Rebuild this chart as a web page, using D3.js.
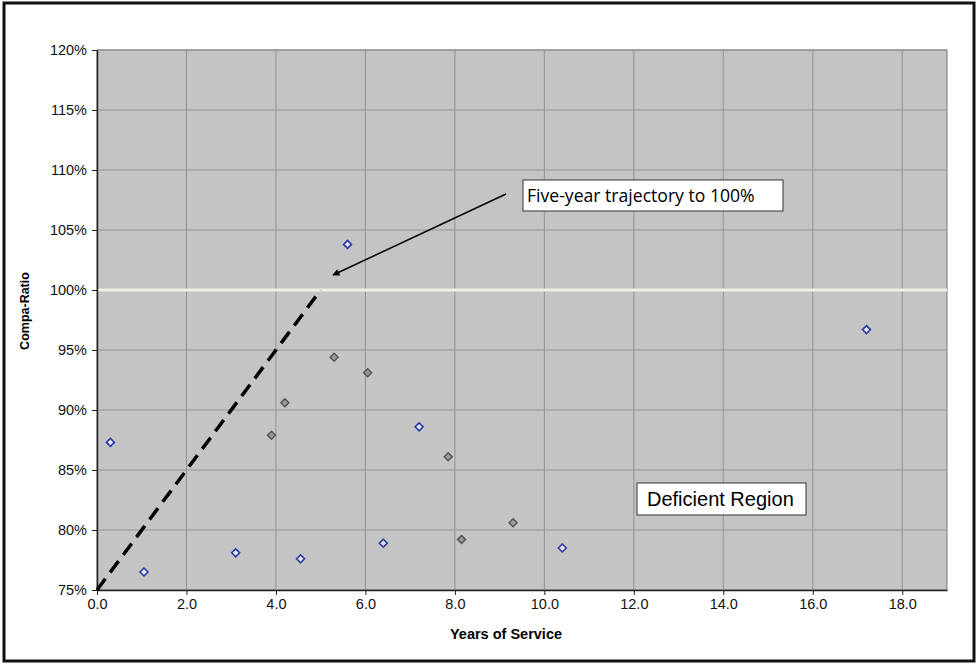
<!DOCTYPE html>
<html><head><meta charset="utf-8">
<script src="https://cdn.jsdelivr.net/npm/d3@7"></script>
<style>body{margin:0;background:#fff}svg{display:block}</style>
</head><body>
<svg id="c" width="977" height="665"></svg>
<script>
// Data
const blueYears = [0.3, 1.05, 3.1, 4.55, 5.6, 6.4, 7.2, 10.4, 17.2];
const blueRatio = [0.873, 0.765, 0.781, 0.776, 1.038, 0.789, 0.886, 0.785, 0.967];
const grayYears = [3.9, 4.2, 5.3, 6.05, 7.85, 8.15, 9.3];
const grayRatio = [0.879, 0.906, 0.944, 0.931, 0.861, 0.792, 0.806];
const trajectoryYears = [0, 5];
const trajectoryRatio = [0.75, 1.0];
const targetRatio = 1.0;
const xTicks = [0, 2, 4, 6, 8, 10, 12, 14, 16, 18];
const yTicks = [0.75, 0.80, 0.85, 0.90, 0.95, 1.00, 1.05, 1.10, 1.15, 1.20];

const svg = d3.select("#c");
const L = 97, T = 50, R = 947, B = 590;
const x = d3.scaleLinear().domain([0, 19]).range([L, R]);
const y = d3.scaleLinear().domain([0.75, 1.20]).range([B, T]);

// outer frame
svg.append("rect").attr("x", 4).attr("y", 3).attr("width", 970).attr("height", 658)
  .attr("fill", "#fff").attr("stroke", "#111").attr("stroke-width", 3);

// plot background
svg.append("rect").attr("x", L).attr("y", T).attr("width", R - L).attr("height", B - T)
  .attr("fill", "#c4c4c4").attr("stroke", "#777").attr("stroke-width", 1);

// gridlines
const g = svg.append("g");
g.selectAll("line.h").data(yTicks.slice(1)).enter().append("line")
  .attr("x1", L).attr("x2", R).attr("y1", d => y(d)).attr("y2", d => y(d))
  .attr("stroke", "#939393").attr("stroke-width", 1);
g.selectAll("line.v").data(xTicks.slice(1)).enter().append("line")
  .attr("x1", d => x(d)).attr("x2", d => x(d)).attr("y1", T).attr("y2", B)
  .attr("stroke", "#939393").attr("stroke-width", 1);

// 100% target line
svg.append("line").attr("x1", L).attr("x2", R).attr("y1", y(targetRatio)).attr("y2", y(targetRatio))
  .attr("stroke", "#f0f0e0").attr("stroke-width", 3);

// axes
const yAxis = d3.axisLeft(y).tickValues(yTicks).tickFormat(d3.format(".0%")).tickSize(5).tickSizeOuter(0);
const ya = svg.append("g").attr("transform", `translate(${L},0)`).call(yAxis);
const xAxis = d3.axisBottom(x).tickValues(xTicks).tickFormat(d3.format(".1f")).tickSize(5).tickSizeOuter(0);
const xa = svg.append("g").attr("transform", `translate(0,${B})`).call(xAxis);
[ya, xa].forEach(a => {
  a.select(".domain").attr("stroke", "#222").attr("stroke-width", 1.5);
  a.selectAll(".tick line").attr("stroke", "#222");
  a.selectAll("text").attr("font-family", "Liberation Sans, Arial, sans-serif")
    .attr("font-size", 14.5).attr("fill", "#111");
});
ya.selectAll("text").attr("x", -10);
xa.selectAll("text").attr("y", 9);

// axis titles
svg.append("text").attr("x", 506).attr("y", 639).attr("text-anchor", "middle")
  .attr("font-family", "Liberation Sans, Arial, sans-serif").attr("font-weight", "bold")
  .attr("font-size", 14.5).text("Years of Service");
svg.append("text").attr("transform", "translate(29,311) rotate(-90)").attr("text-anchor", "middle")
  .attr("font-family", "Liberation Sans, Arial, sans-serif").attr("font-weight", "bold")
  .attr("font-size", 12.5).text("Compa-Ratio");

// trajectory dashed line
const line = d3.line().x(d => x(d[0])).y(d => y(d[1]));
svg.append("path").datum(trajectoryYears.map((v, i) => [v, trajectoryRatio[i]]))
  .attr("d", line).attr("fill", "none").attr("stroke", "#000")
  .attr("stroke-width", 3.5).attr("stroke-dasharray", "14,8");

// diamonds
const diamond = d3.symbol().type(d3.symbolDiamond2).size(40);
svg.selectAll("path.gray").data(grayYears.map((v, i) => [v, grayRatio[i]])).enter().append("path")
  .attr("d", diamond).attr("transform", d => `translate(${x(d[0])},${y(d[1])})`)
  .attr("fill", "#999").attr("stroke", "#555").attr("stroke-width", 1.5);
svg.selectAll("path.blue").data(blueYears.map((v, i) => [v, blueRatio[i]])).enter().append("path")
  .attr("d", diamond).attr("transform", d => `translate(${x(d[0])},${y(d[1])})`)
  .attr("fill", "#e6e6ee").attr("stroke", "#2a3aa8").attr("stroke-width", 1.6);

// arrow
const defs = svg.append("defs");
defs.append("marker").attr("id", "ah").attr("viewBox", "0 0 10 10").attr("refX", 9).attr("refY", 5)
  .attr("markerWidth", 10).attr("markerHeight", 7).attr("markerUnits", "userSpaceOnUse")
  .attr("orient", "auto").append("path").attr("d", "M0,0L10,5L0,10z").attr("fill", "#000");
svg.append("line").attr("x1", 506).attr("y1", 194).attr("x2", 333).attr("y2", 275)
  .attr("stroke", "#000").attr("stroke-width", 1.5).attr("marker-end", "url(#ah)");

// annotation boxes
function box(x0, y0, w, h, txt, fs, fam, pad) {
  svg.append("rect").attr("x", x0).attr("y", y0).attr("width", w).attr("height", h)
    .attr("fill", "#fff").attr("stroke", "#333").attr("stroke-width", 1);
  svg.append("text").attr("x", x0 + pad).attr("y", y0 + h / 2 + fs * 0.35)
    .attr("font-family", fam).attr("font-size", fs).attr("fill", "#000").text(txt);
}
box(523, 180, 260, 31, "Five-year trajectory to 100%", 17.6, "Open Sans, sans-serif", 4);
box(637, 483, 169, 32, "Deficient Region", 20, "Liberation Sans, Arial, sans-serif", 10);
</script>
</body></html>
